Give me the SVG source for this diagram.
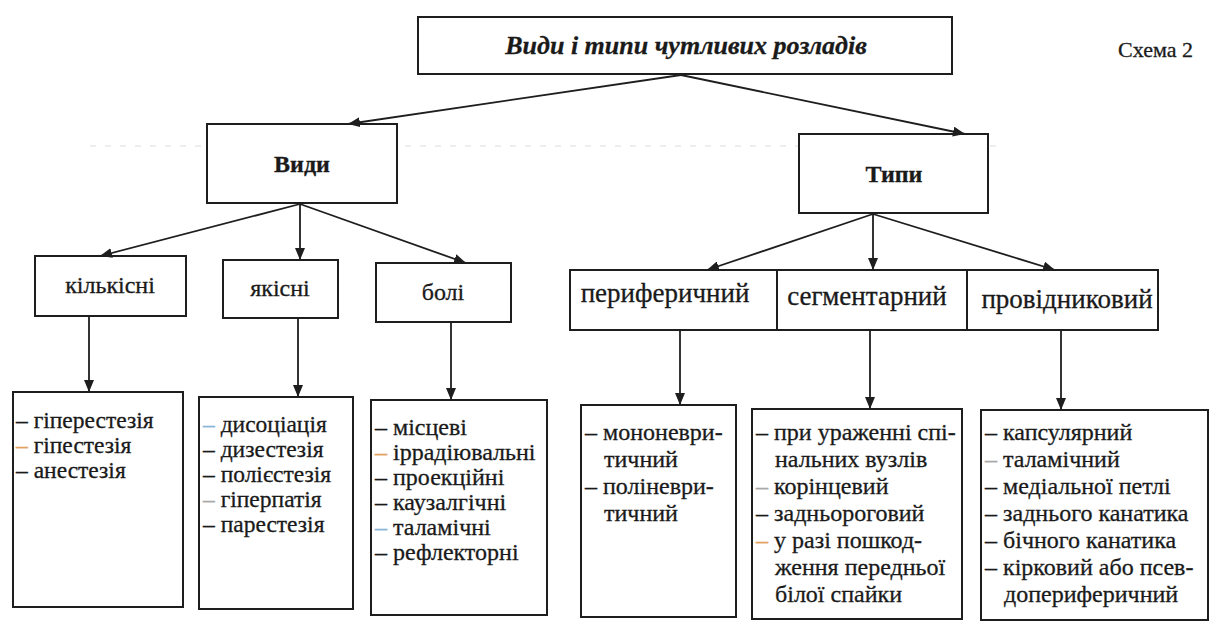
<svg xmlns="http://www.w3.org/2000/svg" width="1212" height="624" viewBox="0 0 1212 624">
<style>
  .bx{fill:#fff;stroke:#1e1e1e;stroke-width:2}
  .t{font-family:"Liberation Serif","DejaVu Serif",serif;fill:#1a1a1a;stroke:#1a1a1a;stroke-width:0.3}
  .c{text-anchor:middle}
  .h{font-weight:bold}
  .l2{font-size:24px}
  .l3{font-size:27px}
  .li{font-size:23.5px}
  .lr{font-size:24px}
  .cn line{stroke:#1e1e1e;stroke-width:1.8;marker-end:url(#ah)}
  .o{fill:#e3a25a;stroke:#e3a25a}.b{fill:#8ab6d6;stroke:#8ab6d6}.g{fill:#a8a8a8;stroke:#a8a8a8}
</style>
<defs>
  <marker id="ah" viewBox="0 0 12 10" refX="12" refY="5" markerWidth="12" markerHeight="10" markerUnits="userSpaceOnUse" orient="auto">
    <path d="M0,0 L12,5 L0,10 z" fill="#1e1e1e"/>
  </marker>
</defs>
<rect width="1212" height="624" fill="#fff"/>
<line x1="90" y1="146" x2="1000" y2="146" stroke="#dcdcdc" stroke-width="1" stroke-dasharray="6 9"/>

<g id="title">
  <rect class="bx" x="418" y="17" width="534" height="57"/>
  <text class="t c h" x="686" y="54" font-size="26" font-style="italic">Види і типи чутливих розладів</text>
</g>
<g id="scheme">
  <text class="t" x="1118" y="57" font-size="22">Схема 2</text>
</g>

<g id="vydy">
  <rect class="bx" x="207" y="124" width="190" height="79"/>
  <text class="t c h" x="302" y="172" font-size="24">Види</text>
</g>
<g id="typy">
  <rect class="bx" x="799" y="134" width="189" height="79"/>
  <text class="t c h" x="894" y="182" font-size="24">Типи</text>
</g>

<g id="kilkisni">
  <rect class="bx" x="35" y="256" width="151" height="60"/>
  <text class="t c l2" x="110" y="293">кількісні</text>
</g>
<g id="yakisni">
  <rect class="bx" x="223" y="260" width="115" height="58"/>
  <text class="t c l2" x="280" y="296">якісні</text>
</g>
<g id="boli">
  <rect class="bx" x="376" y="263" width="135" height="59"/>
  <text class="t c l2" x="443" y="300">болі</text>
</g>

<g id="peryferychnyi">
  <rect class="bx" x="570" y="270" width="207" height="60"/>
  <text class="t c l3" x="665" y="302">периферичний</text>
</g>
<g id="segmentarnyi">
  <rect class="bx" x="777" y="270" width="190" height="60"/>
  <text class="t c l3" x="867" y="305">сегментарний</text>
</g>
<g id="providnykovyi">
  <rect class="bx" x="967" y="270" width="191" height="60"/>
  <text class="t c l3" x="1067" y="308">провідниковий</text>
</g>

<g id="list1">
  <rect class="bx" x="13" y="392" width="170" height="215"/>
  <text class="t li">
    <tspan x="16" y="428">– гіперестезія</tspan>
    <tspan x="16" y="453"><tspan class="o">–</tspan> гіпестезія</tspan>
    <tspan x="16" y="478">– анестезія</tspan>
  </text>
</g>
<g id="list2">
  <rect class="bx" x="199" y="397" width="154" height="212"/>
  <text class="t li">
    <tspan x="203" y="432"><tspan class="b">–</tspan> дисоціація</tspan>
    <tspan x="203" y="457">– дизестезія</tspan>
    <tspan x="203" y="482">– полієстезія</tspan>
    <tspan x="203" y="507"><tspan class="g">–</tspan> гіперпатія</tspan>
    <tspan x="203" y="532">– парестезія</tspan>
  </text>
</g>
<g id="list3">
  <rect class="bx" x="371" y="400" width="176" height="215"/>
  <text class="t lr">
    <tspan x="375" y="435">– місцеві</tspan>
    <tspan x="375" y="460"><tspan class="o">–</tspan> іррадіювальні</tspan>
    <tspan x="375" y="485">– проекційні</tspan>
    <tspan x="375" y="510">– каузалгічні</tspan>
    <tspan x="375" y="535"><tspan class="b">–</tspan> таламічні</tspan>
    <tspan x="375" y="560">– рефлекторні</tspan>
  </text>
</g>
<g id="list4">
  <rect class="bx" x="581" y="405" width="155" height="212"/>
  <text class="t lr">
    <tspan x="585" y="440">– мононеври-</tspan>
    <tspan x="604" y="467">тичний</tspan>
    <tspan x="585" y="494">– поліневри-</tspan>
    <tspan x="604" y="521">тичний</tspan>
  </text>
</g>
<g id="list5">
  <rect class="bx" x="752" y="409" width="210" height="210"/>
  <text class="t lr">
    <tspan x="756" y="440">– при ураженні спі-</tspan>
    <tspan x="775" y="467">нальних вузлів</tspan>
    <tspan x="756" y="494"><tspan class="g">–</tspan> корінцевий</tspan>
    <tspan x="756" y="521">– задньороговий</tspan>
    <tspan x="756" y="548"><tspan class="o">–</tspan> у разі пошкод-</tspan>
    <tspan x="775" y="575">ження передньої</tspan>
    <tspan x="775" y="602">білої спайки</tspan>
  </text>
</g>
<g id="list6">
  <rect class="bx" x="981" y="410" width="227" height="210"/>
  <text class="t lr">
    <tspan x="985" y="440">– капсулярний</tspan>
    <tspan x="985" y="467"><tspan class="g">–</tspan> таламічний</tspan>
    <tspan x="985" y="494">– медіальної петлі</tspan>
    <tspan x="985" y="521">– заднього канатика</tspan>
    <tspan x="985" y="548">– бічного канатика</tspan>
    <tspan x="985" y="575">– кірковий або псев-</tspan>
    <tspan x="1004" y="602">допериферичний</tspan>
  </text>
</g>

<g id="connectors" class="cn">
  <line x1="681" y1="75" x2="348" y2="124"/>
  <line x1="681" y1="75" x2="965" y2="134"/>
  <line x1="300" y1="204" x2="100" y2="256"/>
  <line x1="300" y1="204" x2="300" y2="260"/>
  <line x1="300" y1="204" x2="466" y2="263"/>
  <line x1="873" y1="214" x2="707" y2="270"/>
  <line x1="873" y1="214" x2="873" y2="270"/>
  <line x1="873" y1="214" x2="1055" y2="270"/>
  <line x1="89" y1="316" x2="89" y2="392"/>
  <line x1="298" y1="318" x2="298" y2="397"/>
  <line x1="451" y1="322" x2="451" y2="400"/>
  <line x1="680" y1="330" x2="680" y2="405"/>
  <line x1="870" y1="330" x2="870" y2="409"/>
  <line x1="1061" y1="330" x2="1061" y2="410"/>
</g>
</svg>
